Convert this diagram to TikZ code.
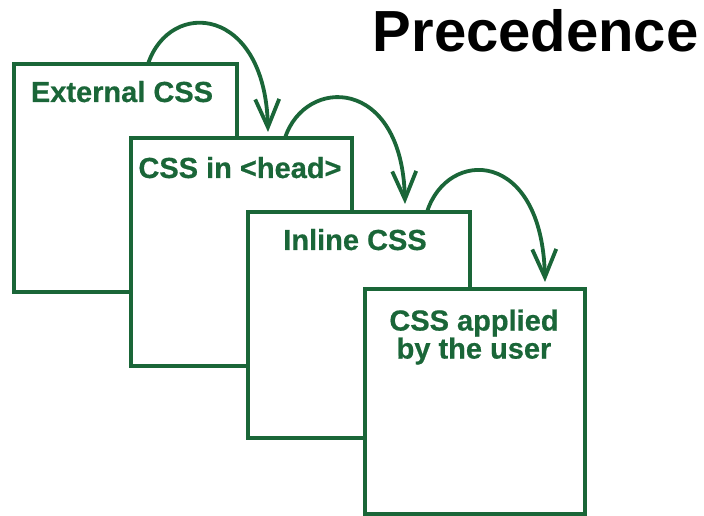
\documentclass[tikz,border=0pt]{standalone}
\usepackage{fontspec}
\setmainfont{Liberation Sans}
\newfontfamily\heavyfont[FakeBold=0.6]{Liberation Sans Bold}
\usetikzlibrary{arrows.meta}
\definecolor{cssgreen}{RGB}{26,102,56}
\tikzset{
  layer/.style={draw=cssgreen, line width=4pt, fill=white},
  lbl/.style={text=cssgreen, font=\fontsize{29}{25}\heavyfont, align=center, anchor=base},
  flow/.style={draw=cssgreen, line width=3.8pt, -{Straight Barb[length=28pt,width=24pt,line width=3.8pt]}}
}
\begin{document}
\begin{tikzpicture}[x=1pt,y=1pt]
\useasboundingbox (0,0) rectangle (704,516);
% boxes (y = 516 - pixel y)
\draw[layer] (14,224) rectangle (237,452);
\draw[layer] (131,150) rectangle (352,378);
\draw[layer] (248,78) rectangle (470,304);
\draw[layer] (365,2) rectangle (585,227);
% labels
\node[lbl] (t1) at (122,414) {External CSS};
\node[lbl] (t2) at (240,338) {CSS in <head>};
\node[lbl] (t3) at (355,266) {Inline CSS};
\node[lbl, anchor=north] (t4) at (474,210) {CSS applied\\by the user};
\node[font=\fontsize{58}{58}\selectfont\bfseries, anchor=base east] (title) at (702,464) {Precedence};
% arrows
\coordinate (a1s) at (148,452);
\coordinate (a1e) at (268,384);
\coordinate (a2s) at (285,378);
\coordinate (a2e) at (405,312);
\coordinate (a3s) at (427,304);
\coordinate (a3e) at (545,234);
\draw[flow] (a1s) .. controls (170,518) and (265,510) .. (a1e);
\draw[flow] (a2s) .. controls (305,440) and (402,440) .. (a2e);
\draw[flow] (a3s) .. controls (447,368) and (542,368) .. (a3e);
\end{tikzpicture}
\end{document}
